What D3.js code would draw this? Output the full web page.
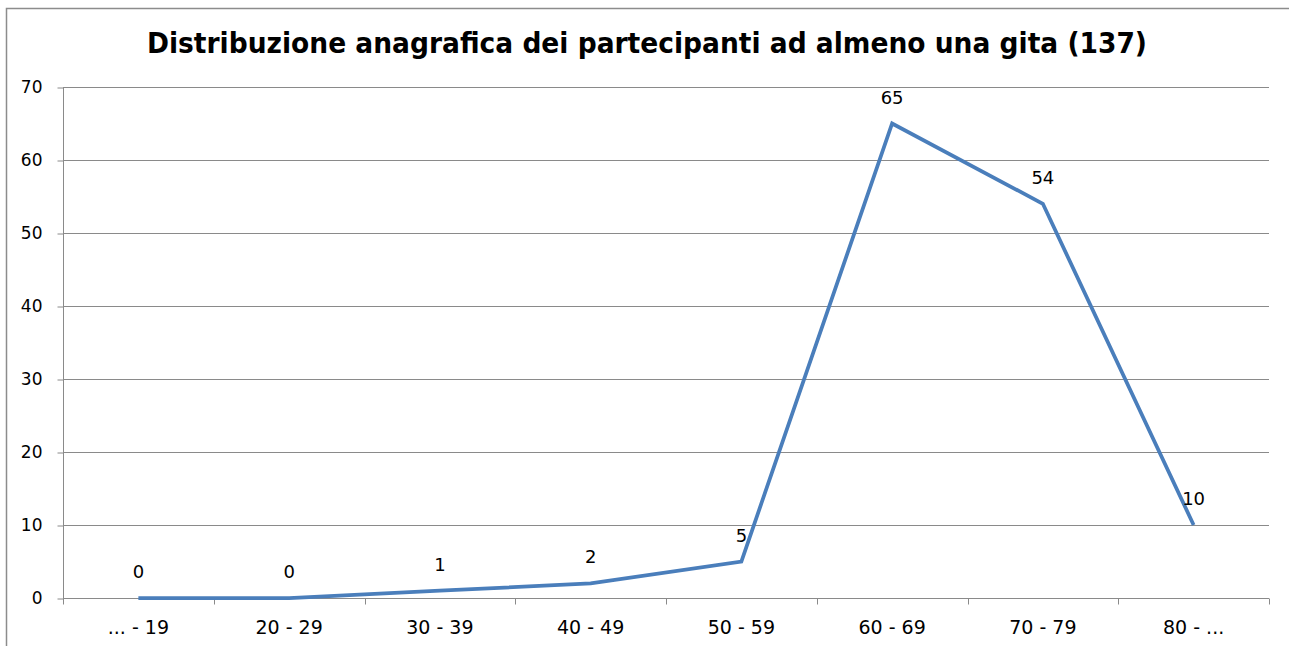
<!DOCTYPE html>
<html>
<head>
<meta charset="utf-8">
<title></title>
<script src="https://d3js.org/d3.v7.min.js"></script>
<style>
  body { margin: 0; background: #fff; }
  text { font-family: "DejaVu Sans", Verdana, sans-serif; fill: #000; }
</style>
</head>
<body>
<svg id="chart" width="1289" height="646"></svg>
<script>
var title = "Distribuzione anagrafica dei partecipanti ad almeno una gita (137)";
var categories = ["... - 19", "20 - 29", "30 - 39", "40 - 49", "50 - 59", "60 - 69", "70 - 79", "80 - ..."];
var counts = [0, 0, 1, 2, 5, 65, 54, 10];
var yTicks = [0, 10, 20, 30, 40, 50, 60, 70];

var svg = d3.select("#chart");

// outer chart frame (only top and left visible)
svg.append("path").attr("d", "M6.5,646 V8.5 H1289")
  .attr("fill", "none").attr("stroke", "#8c8c8c").attr("stroke-width", 1.5);

var x = d3.scaleBand().domain(categories).range([63, 1269]);
var y = d3.scaleLinear().domain([0, 70]).range([598, 87]);

// title
svg.append("text").attr("x", 647).attr("y", 53)
  .attr("text-anchor", "middle").attr("font-size", 28).attr("font-weight", "bold")
  .attr("textLength", 1000).attr("lengthAdjust", "spacingAndGlyphs")
  .text(title);

// gridlines
svg.append("g").selectAll("line").data(yTicks.filter(d => d > 0)).enter().append("line")
  .attr("x1", 63).attr("x2", 1269)
  .attr("y1", d => Math.round(y(d)) + 0.5).attr("y2", d => Math.round(y(d)) + 0.5)
  .attr("stroke", "#8a8a8a").attr("stroke-width", 1);

// y axis
var yAxis = svg.append("g").attr("transform", "translate(63.5,0.5)")
  .call(d3.axisLeft(y).tickValues(yTicks).tickSize(6).tickPadding(15));
yAxis.select(".domain").attr("stroke", "#8a8a8a").attr("d", "M0," + y(70) + "V" + y(0));
yAxis.selectAll(".tick line").attr("stroke", "#8a8a8a");
yAxis.selectAll("text").attr("font-size", 17).attr("font-family", "DejaVu Sans").attr("fill", "#000");

// x axis
var xg = svg.append("g").attr("transform", "translate(0," + (y(0) + 0.5) + ")");
xg.append("line").attr("x1", 63).attr("x2", 1269).attr("stroke", "#8a8a8a");
var bounds = categories.map(c => x(c)).concat([x.range()[1]]);
xg.selectAll(".tk").data(bounds).enter().append("line")
  .attr("x1", d => Math.round(d) + 0.5).attr("x2", d => Math.round(d) + 0.5)
  .attr("y1", 0).attr("y2", 6).attr("stroke", "#8a8a8a");
xg.selectAll(".lbl").data(categories).enter().append("text")
  .attr("x", d => x(d) + x.bandwidth() / 2).attr("y", 35)
  .attr("text-anchor", "middle").attr("font-size", 19)
  .text(d => d);

// line
var line = d3.line()
  .x((d, i) => x(categories[i]) + x.bandwidth() / 2)
  .y(d => y(d));
svg.append("path").attr("d", line(counts))
  .attr("fill", "none").attr("stroke", "#4a7ebb").attr("stroke-width", 3.75)
  .attr("stroke-linejoin", "miter");

// data labels
svg.append("g").selectAll("text").data(counts).enter().append("text")
  .attr("x", (d, i) => x(categories[i]) + x.bandwidth() / 2)
  .attr("y", d => y(d) - 20)
  .attr("text-anchor", "middle").attr("font-size", 18)
  .text(d => d);
</script>
</body>
</html>
